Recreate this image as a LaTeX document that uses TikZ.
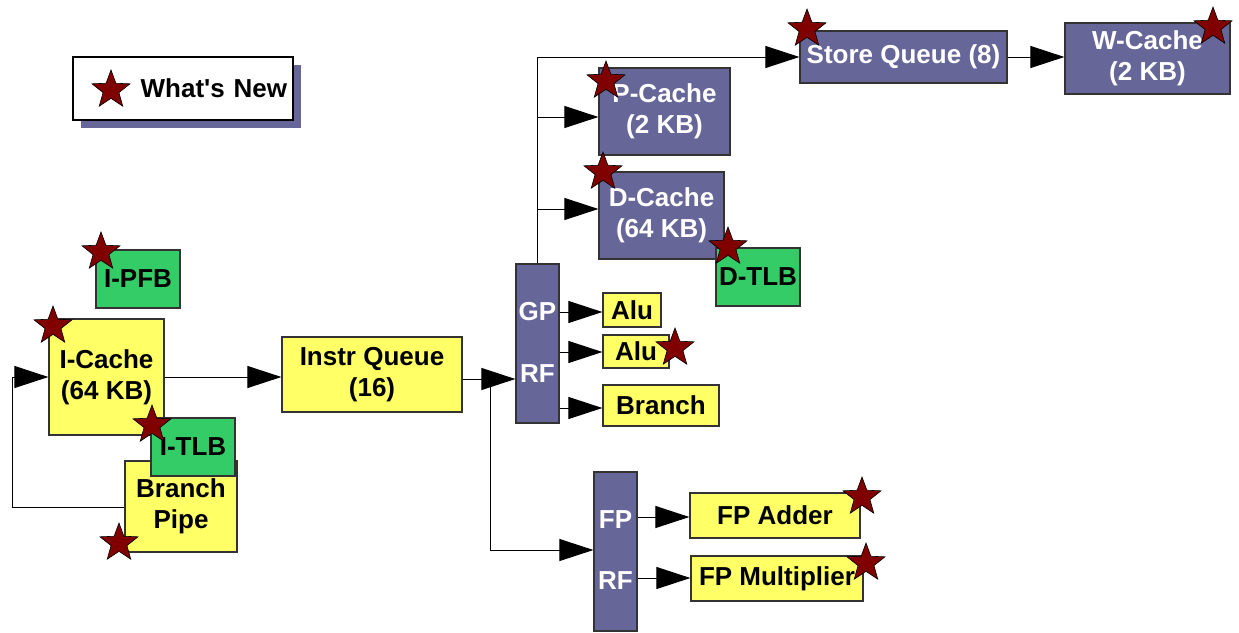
\documentclass[tikz,border=0pt]{standalone}
\usepackage{fontspec}
\setmainfont{Liberation Sans}[Ligatures=TeXOff]
\usetikzlibrary{arrows.meta,shapes.geometric}
\definecolor{pur}{HTML}{666699}
\definecolor{yel}{HTML}{FFFF66}
\definecolor{grn}{HTML}{33CC66}
\definecolor{starred}{HTML}{800000}
\definecolor{edgegray}{HTML}{333333}
\begin{document}
\begin{tikzpicture}[x=1pt,y=-1pt,
  box/.style={draw=edgegray, line width=1.2pt, inner sep=0pt, align=center,
    font=\fontsize{26}{31}\selectfont\bfseries, text=black},
  pbox/.style={box, fill=pur, text=white},
  ybox/.style={box, fill=yel},
  gbox/.style={box, fill=grn},
  wbox/.style={box, fill=white, draw=black},
  lbl/.style={inner sep=0pt, font=\fontsize{26}{31}\selectfont\bfseries, text=white},
  newstar/.style={star, star points=5, star point ratio=2.4, minimum size=40pt,
    inner sep=0pt, fill=starred, draw=black, line width=0.6pt},
  conn/.style={draw=black, line width=1pt},
  arr/.style={conn, -{Triangle[length=34pt,width=22pt]}}]
\useasboundingbox (0,0) rectangle (1239,632);

% legend
\fill[pur] (81,65) rectangle (301,128);
\node[wbox, minimum width=220pt, minimum height=63pt, text width=208pt, align=right] (legend) at (183,88.5) {What's New};

% front end
\node[gbox, minimum width=84pt, minimum height=58pt] (ipfb) at (138,279) {I-PFB};
\node[ybox, minimum width=115pt, minimum height=116pt] (icache) at (106.5,377) {I-Cache\\(64 KB)};
\node[ybox, minimum width=112pt, minimum height=91pt] (bpipe) at (181,506.5) {Branch\\Pipe};
\node[gbox, minimum width=84pt, minimum height=58pt] (itlb) at (193,447) {I-TLB};
\node[ybox, minimum width=180pt, minimum height=75pt] (iq) at (372,374.5) {Instr Queue\\(16)};

% integer side
\node[pbox, minimum width=43pt, minimum height=159pt] (gprf) at (537.5,343.5) {};
\node[lbl] (gplbl) at (537.5,312) {GP};
\node[lbl] (rflbl) at (537.5,374) {RF};
\node[ybox, minimum width=58pt, minimum height=34pt] (alu1) at (632,310) {Alu};
\node[ybox, minimum width=66pt, minimum height=33pt] (alu2) at (636,351.5) {Alu};
\node[ybox, minimum width=116pt, minimum height=41pt] (branch) at (661,405.5) {Branch};

% fp side
\node[pbox, minimum width=43pt, minimum height=159pt] (fprf) at (615.5,551.5) {};
\node[lbl] (fplbl) at (615.5,520) {FP};
\node[lbl] (fprflbl) at (615.5,581) {RF};
\node[ybox, minimum width=170pt, minimum height=45pt] (fpadd) at (775,515.5) {FP Adder};
\node[ybox, minimum width=172pt, minimum height=45pt] (fpmul) at (777,578.5) {FP Multiplier};

% memory side
\node[pbox, minimum width=131pt, minimum height=87pt] (pcache) at (664.5,111.5) {P-Cache\\(2 KB)};
\node[pbox, minimum width=125pt, minimum height=87pt] (dcache) at (661.5,215.5) {D-Cache\\(64 KB)};
\node[gbox, minimum width=84pt, minimum height=58pt] (dtlb) at (758,277) {D-TLB};
\node[pbox, minimum width=207pt, minimum height=52pt] (sq) at (903.5,57) {Store Queue (8)};
\node[pbox, minimum width=165pt, minimum height=71pt] (wc) at (1147.5,58.5) {W-Cache\\(2 KB)};

% connectors
\draw[arr] (icache.east) -- (icache.east -| iq.west);
\coordinate (l1) at (12,507);
\coordinate (l2) at (12,377);
\draw[arr] (bpipe.west |- l1) -- (l1) -- (l2) -- (icache.west |- l2);
\coordinate (j1) at (490,379);
\coordinate (j2) at (490,550);
\draw[arr] (iq.east |- j1) -- (gprf.west |- j1);
\draw[arr] (j1) -- (j2) -- (fprf.west |- j2);
\draw[arr] (gprf.north) |- (sq.west);
\coordinate (p1) at (538,117);
\coordinate (d1) at (538,209);
\draw[arr] (p1) -- (pcache.west |- p1);
\draw[arr] (d1) -- (dcache.west |- d1);
\coordinate (a1) at (560,312);
\coordinate (a2) at (560,352);
\coordinate (a3) at (560,408);
\draw[arr] (a1) -- (alu1.west |- a1);
\draw[arr] (a2) -- (alu2.west |- a2);
\draw[arr] (a3) -- (branch.west |- a3);
\coordinate (f1) at (638,517);
\coordinate (f2) at (638,578);
\draw[arr] (f1) -- (fpadd.west |- f1);
\draw[arr] (f2) -- (fpmul.west |- f2);
\draw[arr] (sq.east) -- (sq.east -| wc.west);

% stars
\node[newstar] (s0) at (111,90) {};
\node[newstar] (s1) at (101,252) {};
\node[newstar] (s2) at (53,326) {};
\node[newstar] (s3) at (152,425) {};
\node[newstar] (s4) at (119,543) {};
\node[newstar] (s5) at (675,348) {};
\node[newstar] (s6) at (862,497) {};
\node[newstar] (s7) at (866,563) {};
\node[newstar] (s8) at (606,81) {};
\node[newstar] (s9) at (603,172) {};
\node[newstar] (s10) at (728,247) {};
\node[newstar] (s11) at (807,29) {};
\node[newstar] (s12) at (1213,27) {};
\end{tikzpicture}
\end{document}
